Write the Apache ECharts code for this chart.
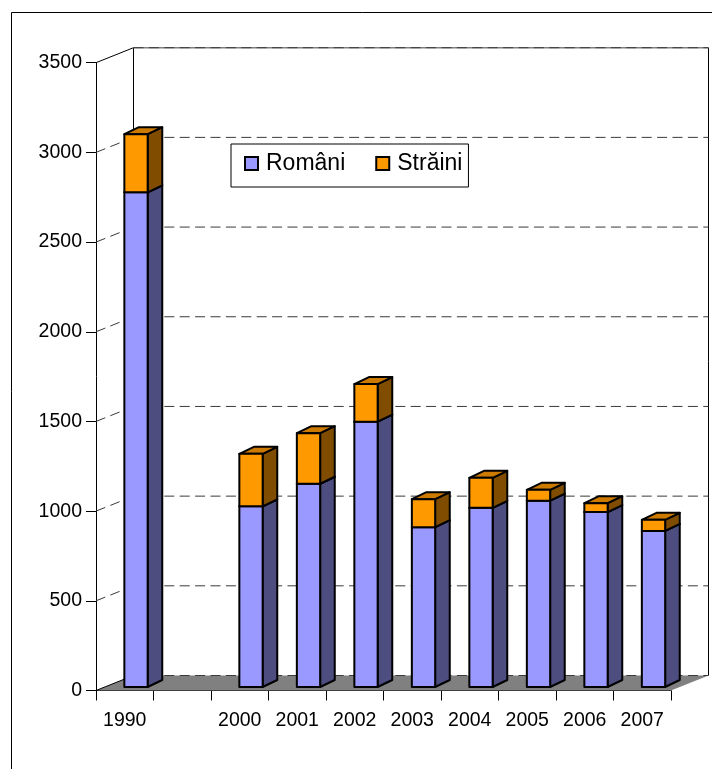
<!DOCTYPE html>
<html>
<head>
<meta charset="utf-8">
<style>
  html, body { margin: 0; padding: 0; background: #fff; }
  #chart { width: 712px; height: 769px; }
</style>
<script src="https://cdn.jsdelivr.net/npm/echarts@6/dist/echarts.min.js"></script>
</head>
<body>
<div id="chart"></div>
<script>
  // values, null = empty slot between 1990 and 2000
  const categories = ['1990', '', '2000', '2001', '2002', '2003', '2004', '2005', '2006', '2007']
  const romani = [2758, null, 1007, 1133, 1479, 891, 999, 1039, 975, 870]
  const straini = [324, null, 293, 282, 210, 156, 167, 60, 50, 62]
  const yTicks = [0, 500, 1000, 1500, 2000, 2500, 3000, 3500]

  const FONT = '"Liberation Sans", Arial, sans-serif'
  const WALL_DX = 37.5
  const WALL_DY = -15
  const BAR_W = 23.3
  const BAR_DX = 14.6
  const BAR_DY = -7
  const BAR_LIFT = 3.5

  function wallItem (params, api) {
    const cs = params.coordSys
    const value = api.value(0)
    const y = api.coord([0, value])[1]
    const x0 = cs.x
    const x1 = cs.x + cs.width
    const children = []
    const backY = y + WALL_DY
    const dash = { stroke: '#3a3a3a', lineWidth: 1, lineDash: [10, 5.4] }
    if (value === 0) {
      children.push({
        type: 'polygon',
        shape: { points: [[x0, y], [x0 + WALL_DX, backY], [x1 + WALL_DX, backY], [x1, y]] },
        style: { fill: '#808080', stroke: null }
      })
      // back wall edges
      const topY = api.coord([0, yTicks[yTicks.length - 1]])[1] + WALL_DY
      children.push({
        type: 'polyline',
        shape: { points: [[x0 + WALL_DX, backY], [x0 + WALL_DX, topY]] },
        style: { stroke: '#000', lineWidth: 1, fill: null }
      })
      children.push({
        type: 'polyline',
        shape: { points: [[x1 + WALL_DX, backY], [x1 + WALL_DX, topY]] },
        style: { stroke: '#000', lineWidth: 1, fill: null }
      })
    }
    if (value === yTicks[yTicks.length - 1]) {
      children.push({
        type: 'line',
        shape: { x1: x0, y1: y, x2: x0 + WALL_DX, y2: backY },
        style: { stroke: '#000', lineWidth: 1 }
      })
      children.push({
        type: 'line',
        shape: { x1: x0 + WALL_DX, y1: backY, x2: x1 + WALL_DX, y2: backY },
        style: { stroke: '#808080', lineWidth: 1.5 }
      })
    } else if (value === 0) {
      children.push({
        type: 'line',
        shape: { x1: x0, y1: y, x2: x0 + WALL_DX, y2: backY },
        style: { stroke: '#000', lineWidth: 1 }
      })
    } else {
      children.push({
        type: 'line',
        shape: { x1: x0, y1: y, x2: x0 + WALL_DX, y2: backY },
        style: dash
      })
    }
    children.push({
      type: 'line',
      shape: { x1: x0 + WALL_DX, y1: backY, x2: x1 + WALL_DX, y2: backY },
      style: dash
    })
    return { type: 'group', children: children }
  }

  function barItem (front, side, top) {
    return function (params, api) {
      const idx = api.value(0)
      const low = api.coord([idx, api.value(1)])
      const high = api.coord([idx, api.value(2)])
      const l = low[0] - 0.4
      const r = l + BAR_W
      const y0 = low[1] - BAR_LIFT
      const y1 = high[1] - BAR_LIFT
      const edge = { stroke: '#000', lineWidth: 2, lineJoin: 'round' }
      return {
        type: 'group',
        children: [
          {
            type: 'polygon',
            shape: { points: [[r, y0], [r + BAR_DX, y0 + BAR_DY], [r + BAR_DX, y1 + BAR_DY], [r, y1]] },
            style: Object.assign({ fill: side }, edge)
          },
          {
            type: 'polygon',
            shape: { points: [[l, y1], [l + BAR_DX, y1 + BAR_DY], [r + BAR_DX, y1 + BAR_DY], [r, y1]] },
            style: Object.assign({ fill: top }, edge)
          },
          {
            type: 'polygon',
            shape: { points: [[l, y0], [r, y0], [r, y1], [l, y1]] },
            style: Object.assign({ fill: front }, edge)
          }
        ]
      }
    }
  }

  const romaniData = []
  const strainiData = []
  categories.forEach(function (c, i) {
    if (romani[i] === null) return
    romaniData.push([i, 0, romani[i]])
    strainiData.push([i, romani[i], romani[i] + straini[i]])
  })

  const chart = echarts.init(document.getElementById('chart'), null, { renderer: 'canvas' })
  chart.setOption({
    animation: false,
    backgroundColor: '#fff',
    graphic: [{
      type: 'rect',
      silent: true,
      z: -1,
      shape: { x: 11.5, y: 12.5, width: 900, height: 900 },
      style: { fill: null, stroke: '#000', lineWidth: 1 }
    }],
    grid: { left: 96, right: 41, top: 62.7, bottom: 78.5 },
    legend: {
      data: ['Români', 'Străini'],
      left: 231,
      top: 144,
      orient: 'horizontal',
      backgroundColor: '#fff',
      borderColor: '#000',
      borderWidth: 1,
      padding: [8, 6, 12, 13],
      itemWidth: 13,
      itemHeight: 13,
      itemGap: 30,
      icon: 'rect',
      itemStyle: { borderColor: '#000', borderWidth: 2 },
      textStyle: { fontFamily: FONT, fontSize: 23, color: '#000', padding: [0, 0, 0, 3] }
    },
    xAxis: {
      type: 'category',
      data: categories,
      axisLine: { lineStyle: { color: '#000', width: 1 } },
      axisTick: { show: true, alignWithLabel: false, length: 10, lineStyle: { color: '#000', width: 1 } },
      axisLabel: { interval: 0, margin: 20, fontFamily: FONT, fontSize: 19.5, color: '#000' }
    },
    yAxis: {
      type: 'value',
      min: 0,
      max: 3500,
      interval: 500,
      axisLine: { show: true, lineStyle: { color: '#000', width: 1 } },
      axisTick: { show: true, length: 10, lineStyle: { color: '#000', width: 1 } },
      splitLine: { show: false },
      axisLabel: {
        margin: 14,
        fontFamily: FONT,
        fontSize: 19.5,
        color: '#000',
        formatter: function (v) { return String(v) }
      }
    },
    series: [
      {
        type: 'custom',
        name: 'walls',
        silent: true,
        z: 1,
        renderItem: wallItem,
        encode: { y: 0 },
        data: yTicks.map(function (v) { return [v] })
      },
      {
        type: 'custom',
        name: 'Români',
        z: 2,
        itemStyle: { color: '#9999FF' },
        renderItem: barItem('#9999FF', '#4D4D80', '#7A7ACC'),
        encode: { x: 0, y: [1, 2] },
        data: romaniData
      },
      {
        type: 'custom',
        name: 'Străini',
        z: 3,
        itemStyle: { color: '#FF9900' },
        renderItem: barItem('#FF9900', '#804D00', '#CC7A00'),
        encode: { x: 0, y: [1, 2] },
        data: strainiData
      }
    ]
  })
</script>
</body>
</html>
